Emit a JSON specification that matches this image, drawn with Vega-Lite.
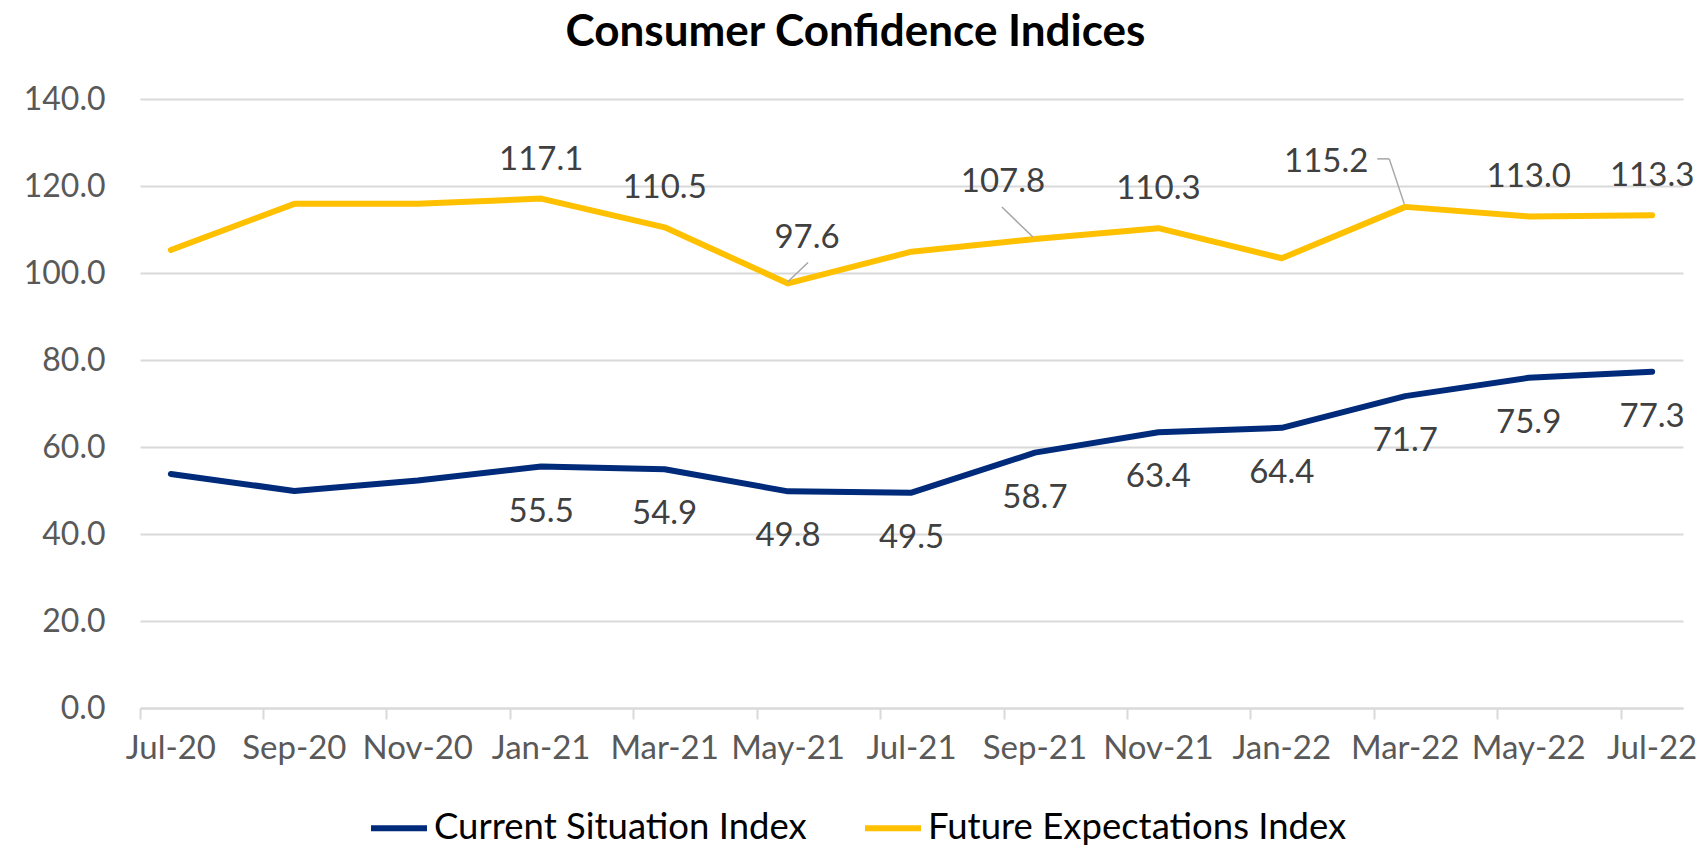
{
  "$schema": "https://vega.github.io/schema/vega-lite/v6.json",
  "width": 1543,
  "height": 609,
  "autosize": {"type": "none"},
  "padding": {"left": 140, "top": 99, "right": 19, "bottom": 139},
  "background": "white",
  "config": {
    "view": {"stroke": null},
    "font": "Lato",
    "text": {"font": "Lato"}
  },
  "title": {
    "text": "Consumer Confidence Indices",
    "font": "Lato",
    "fontSize": 44,
    "fontWeight": "bold",
    "color": "#000000",
    "anchor": "middle",
    "dx": -56,
    "offset": 28
  },
  "data": {
    "values": [
      {"month": "Jul-20", "series": "Current Situation Index", "value": 53.8, "labeled": false},
      {"month": "Sep-20", "series": "Current Situation Index", "value": 49.9, "labeled": false},
      {"month": "Nov-20", "series": "Current Situation Index", "value": 52.3, "labeled": false},
      {"month": "Jan-21", "series": "Current Situation Index", "value": 55.5, "labeled": true},
      {"month": "Mar-21", "series": "Current Situation Index", "value": 54.9, "labeled": true},
      {"month": "May-21", "series": "Current Situation Index", "value": 49.8, "labeled": true},
      {"month": "Jul-21", "series": "Current Situation Index", "value": 49.5, "labeled": true},
      {"month": "Sep-21", "series": "Current Situation Index", "value": 58.7, "labeled": true},
      {"month": "Nov-21", "series": "Current Situation Index", "value": 63.4, "labeled": true},
      {"month": "Jan-22", "series": "Current Situation Index", "value": 64.4, "labeled": true},
      {"month": "Mar-22", "series": "Current Situation Index", "value": 71.7, "labeled": true},
      {"month": "May-22", "series": "Current Situation Index", "value": 75.9, "labeled": true},
      {"month": "Jul-22", "series": "Current Situation Index", "value": 77.3, "labeled": true},
      {"month": "Jul-20", "series": "Future Expectations Index", "value": 105.3, "labeled": false},
      {"month": "Sep-20", "series": "Future Expectations Index", "value": 115.9, "labeled": false},
      {"month": "Nov-20", "series": "Future Expectations Index", "value": 115.9, "labeled": false},
      {"month": "Jan-21", "series": "Future Expectations Index", "value": 117.1, "labeled": true},
      {"month": "Mar-21", "series": "Future Expectations Index", "value": 110.5, "labeled": true},
      {"month": "May-21", "series": "Future Expectations Index", "value": 97.6, "labeled": true},
      {"month": "Jul-21", "series": "Future Expectations Index", "value": 104.9, "labeled": false},
      {"month": "Sep-21", "series": "Future Expectations Index", "value": 107.8, "labeled": true},
      {"month": "Nov-21", "series": "Future Expectations Index", "value": 110.3, "labeled": true},
      {"month": "Jan-22", "series": "Future Expectations Index", "value": 103.4, "labeled": false},
      {"month": "Mar-22", "series": "Future Expectations Index", "value": 115.2, "labeled": true},
      {"month": "May-22", "series": "Future Expectations Index", "value": 113.0, "labeled": true},
      {"month": "Jul-22", "series": "Future Expectations Index", "value": 113.3, "labeled": true}
    ]
  },
  "encoding": {
    "x": {
      "field": "month",
      "type": "ordinal",
      "scale": {
        "type": "band",
        "paddingInner": 0,
        "paddingOuter": 0,
        "domain": ["Jul-20","Aug-20","Sep-20","Oct-20","Nov-20","Dec-20","Jan-21","Feb-21","Mar-21","Apr-21","May-21","Jun-21","Jul-21","Aug-21","Sep-21","Oct-21","Nov-21","Dec-21","Jan-22","Feb-22","Mar-22","Apr-22","May-22","Jun-22","Jul-22"]
      },
      "axis": {
        "title": null,
        "values": ["Jul-20","Sep-20","Nov-20","Jan-21","Mar-21","May-21","Jul-21","Sep-21","Nov-21","Jan-22","Mar-22","May-22","Jul-22"],
        "bandPosition": 0,
        "labelAngle": 0,
        "labelOverlap": false,
        "labelFont": "Lato",
        "labelFontSize": 33,
        "labelColor": "#595959",
        "labelPadding": 13,
        "labelAlign": "center",
        "domainColor": "#D9D9D9",
        "domainWidth": 2,
        "tickColor": "#D9D9D9",
        "tickWidth": 2,
        "tickSize": 11,
        "grid": false
      }
    },
    "y": {
      "field": "value",
      "type": "quantitative",
      "scale": {"domain": [0, 140], "nice": false, "zero": true},
      "axis": {
        "title": null,
        "values": [0, 20, 40, 60, 80, 100, 120, 140],
        "format": ".1f",
        "domain": false,
        "ticks": false,
        "grid": true,
        "gridColor": "#D9D9D9",
        "gridWidth": 2,
        "labelFont": "Lato",
        "labelFontSize": 32,
        "labelColor": "#595959",
        "labelPadding": 35
      }
    }
  },
  "layer": [
    {
      "mark": {"type": "line", "strokeWidth": 6, "strokeCap": "round", "strokeJoin": "round"},
      "encoding": {
        "color": {
          "field": "series",
          "type": "nominal",
          "scale": {
            "domain": ["Current Situation Index", "Future Expectations Index"],
            "range": ["#002A7A", "#FFC000"]
          },
          "legend": {
            "title": null,
            "orient": "none",
            "direction": "horizontal",
            "legendX": 228,
            "legendY": 698,
            "padding": 0,
            "symbolType": "stroke",
            "symbolSize": 3136,
            "symbolStrokeWidth": 6,
            "labelFont": "Lato",
            "labelFontSize": 36.5,
            "labelColor": "#000000",
            "labelOffset": 4,
            "labelLimit": 0,
            "columnPadding": 46
          }
        },
        "order": {"value": null}
      }
    },
    {
      "transform": [
        {"filter": "datum.labeled && datum.series == 'Future Expectations Index' && indexof(['May-21','Sep-21','Mar-22'], datum.month) < 0"}
      ],
      "mark": {"type": "text", "font": "Lato", "fontSize": 33, "color": "#404040", "baseline": "alphabetic", "dy": -29},
      "encoding": {"text": {"field": "value", "type": "quantitative", "format": ".1f"}}
    },
    {
      "transform": [
        {"filter": "datum.labeled && datum.series == 'Current Situation Index'"}
      ],
      "mark": {"type": "text", "font": "Lato", "fontSize": 33, "color": "#404040", "baseline": "alphabetic", "dy": 55},
      "encoding": {"text": {"field": "value", "type": "quantitative", "format": ".1f"}}
    },
    {
      "transform": [{"filter": "datum.series == 'Future Expectations Index' && datum.month == 'May-21'"}],
      "mark": {"type": "text", "font": "Lato", "fontSize": 33, "color": "#404040", "baseline": "alphabetic", "dx": 19, "dy": -35},
      "encoding": {"text": {"field": "value", "type": "quantitative", "format": ".1f"}}
    },
    {
      "transform": [{"filter": "datum.series == 'Future Expectations Index' && datum.month == 'Sep-21'"}],
      "mark": {"type": "text", "font": "Lato", "fontSize": 33, "color": "#404040", "baseline": "alphabetic", "dx": -32, "dy": -47},
      "encoding": {"text": {"field": "value", "type": "quantitative", "format": ".1f"}}
    },
    {
      "transform": [{"filter": "datum.series == 'Future Expectations Index' && datum.month == 'Mar-22'"}],
      "mark": {"type": "text", "font": "Lato", "fontSize": 33, "color": "#404040", "baseline": "alphabetic", "dx": -79, "dy": -35},
      "encoding": {"text": {"field": "value", "type": "quantitative", "format": ".1f"}}
    },
    {
      "transform": [{"filter": "datum.series == 'Future Expectations Index' && datum.month == 'May-21'"}],
      "mark": {"type": "rule", "color": "#A6A6A6", "strokeWidth": 1.5, "xOffset": 0, "yOffset": -2, "x2Offset": 20, "y2Offset": -21},
      "encoding": {"x2": {"field": "month"}, "y2": {"field": "value"}}
    },
    {
      "transform": [{"filter": "datum.series == 'Future Expectations Index' && datum.month == 'Sep-21'"}],
      "mark": {"type": "rule", "color": "#A6A6A6", "strokeWidth": 1.5, "xOffset": -33, "yOffset": -32, "x2Offset": -2, "y2Offset": -2},
      "encoding": {"x2": {"field": "month"}, "y2": {"field": "value"}}
    },
    {
      "transform": [{"filter": "datum.series == 'Future Expectations Index' && datum.month == 'Mar-22'"}],
      "mark": {"type": "rule", "color": "#A6A6A6", "strokeWidth": 1.5, "xOffset": -28, "yOffset": -48, "x2Offset": -16, "y2Offset": -48},
      "encoding": {"x2": {"field": "month"}, "y2": {"field": "value"}}
    },
    {
      "transform": [{"filter": "datum.series == 'Future Expectations Index' && datum.month == 'Mar-22'"}],
      "mark": {"type": "rule", "color": "#A6A6A6", "strokeWidth": 1.5, "xOffset": -16, "yOffset": -48, "x2Offset": -1, "y2Offset": -3},
      "encoding": {"x2": {"field": "month"}, "y2": {"field": "value"}}
    }
  ]
}
